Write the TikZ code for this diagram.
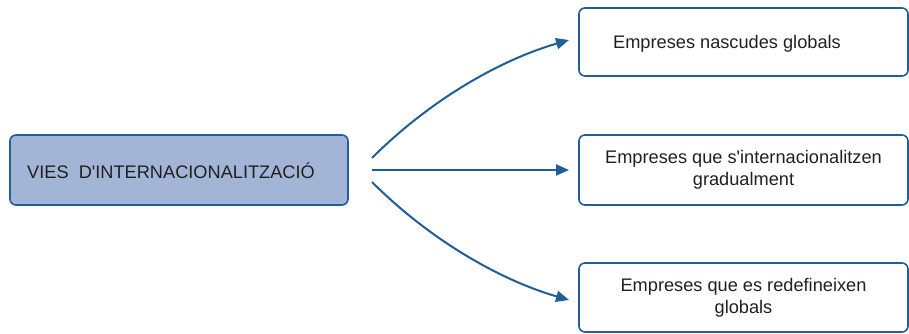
\documentclass[tikz,border=0pt]{standalone}
\usepackage{fontspec}
\setmainfont{Liberation Sans}[Ligatures=ResetAll]
\usetikzlibrary{arrows.meta}
\definecolor{dblue}{HTML}{1F5E99}
\definecolor{lblue}{HTML}{A3B5D6}
\definecolor{txt}{HTML}{231F20}
\begin{document}
\begin{tikzpicture}[x=1pt,y=-1pt,
  lbl/.style={text=txt,font=\fontsize{18.2}{22}\selectfont,align=center,inner sep=0pt},
  box/.style={draw=dblue,line width=1.6pt,rounded corners=6pt,inner sep=0pt,lbl},
  conn/.style={draw=dblue,line width=2pt,-{Triangle[length=13pt,width=11pt]}}]
\useasboundingbox (0,0) rectangle (909,334);
\node[box,fill=lblue,minimum width=338pt,minimum height=70pt] (src) at (179,170) {};
\node[lbl,anchor=west] (srct) at (27,171) {VIES\ \ D\textquotesingle INTERNACIONALITZACIÓ};
\node[box,minimum width=329pt,minimum height=68pt] (a) at (743.5,42) {};
\node[lbl] (at) at (727,44) {Empreses nascudes globals};
\node[box,minimum width=329pt,minimum height=70pt] (b) at (743.5,170) {Empreses que s\textquotesingle internacionalitzen\\gradualment};
\node[box,minimum width=329pt,minimum height=69pt] (c) at (743.5,297.5) {Empreses que es redefineixen\\globals};
\coordinate (s1) at (372,158);
\coordinate (s2) at (372,170);
\coordinate (s3) at (372,182);
\coordinate (e1) at (569,40);
\coordinate (e2) at (569,170);
\coordinate (e3) at (569,300);
\draw[conn] (s1) .. controls (430,100) and (500,60) .. (e1);
\draw[conn] (s2) -- (e2);
\draw[conn] (s3) .. controls (430,240) and (500,280) .. (e3);
\end{tikzpicture}
\end{document}
